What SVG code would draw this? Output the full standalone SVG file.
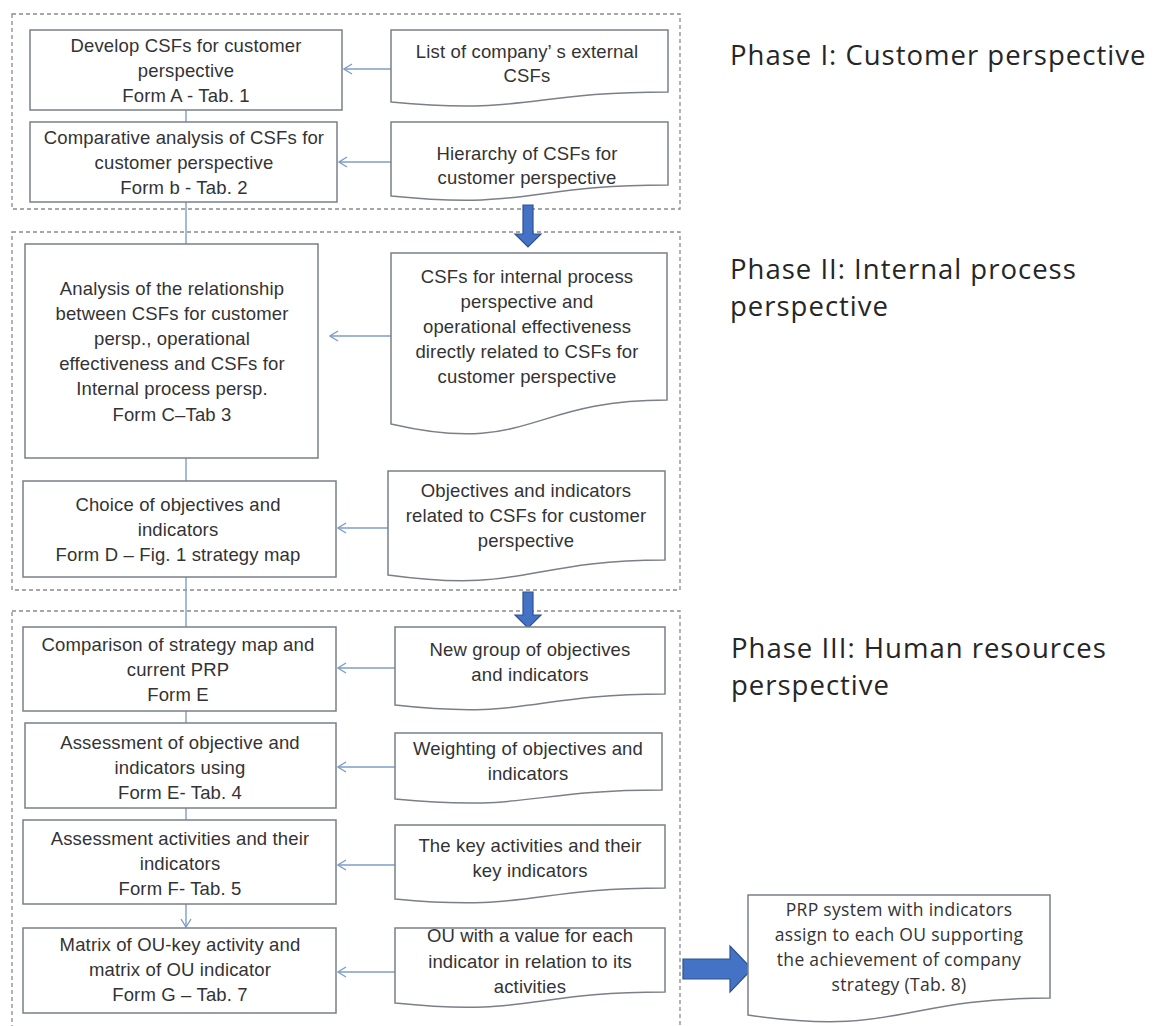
<svg xmlns="http://www.w3.org/2000/svg" width="1164" height="1026" viewBox="0 0 1164 1026">
<defs>
<style>
.phase{fill:none;stroke:#8a8a8a;stroke-width:1.3;stroke-dasharray:4 3}
.box{fill:#fff;stroke:#7a7f88;stroke-width:1.5}
.doc{fill:#fff;stroke:#7a7f88;stroke-width:1.5}
.t{font-family:"Liberation Sans",Arial,sans-serif;font-size:18.5px;letter-spacing:0.15px;fill:#333;text-anchor:middle}
.t2{font-family:"Open Sans","Liberation Sans",sans-serif;font-size:17.5px;letter-spacing:0.3px;fill:#333;text-anchor:middle}
.ph{font-family:"Open Sans","Liberation Sans",sans-serif;font-size:27.5px;letter-spacing:1px;fill:#262626}
.con{fill:none;stroke:#7f9cc8;stroke-width:1.4}
.big{fill:#4472c4;stroke:#2f528f;stroke-width:1.2}
</style>
<marker id="open" viewBox="0 0 10 12" refX="9" refY="6" markerWidth="10" markerHeight="12" markerUnits="userSpaceOnUse" orient="auto">
<path d="M1,1 L9,6 L1,11" fill="none" stroke="#7f9cc8" stroke-width="1.4"/>
</marker>
</defs>

<g id="phase1-frame"><rect class="phase" x="12" y="14" width="668" height="195"/></g>
<g id="phase2-frame"><rect class="phase" x="12" y="232" width="668" height="358"/></g>
<g id="phase3-frame"><rect class="phase" x="12" y="611" width="668" height="430"/></g>

<g id="connectors">
<path class="con" d="M186,110 V122"/>
<path class="con" d="M186,202 V244"/>
<path class="con" d="M186,458 V481"/>
<path class="con" d="M186,577 V627"/>
<path class="con" d="M186,711 V723"/>
<path class="con" d="M186,808 V820"/>
<path class="con" d="M186,904 V927" marker-end="url(#open)"/>
<path class="con" d="M391,69 H344" marker-end="url(#open)"/>
<path class="con" d="M391,162 H339" marker-end="url(#open)"/>
<path class="con" d="M391,336 H330" marker-end="url(#open)"/>
<path class="con" d="M388,528 H338" marker-end="url(#open)"/>
<path class="con" d="M395,668 H338" marker-end="url(#open)"/>
<path class="con" d="M395,767 H338" marker-end="url(#open)"/>
<path class="con" d="M395,865 H338" marker-end="url(#open)"/>
<path class="con" d="M395,972 H338" marker-end="url(#open)"/>
<path class="big" d="M523,205 H533 V234 H541 L528,247 L515,234 H523 Z"/>
<path class="big" d="M523,592 H533 V615 H541 L528,628 L515,615 H523 Z"/>
<path class="big" d="M683,959 H730 V946 L752,969 L730,992 V979 H683 Z"/>
</g>

<g id="n1">
<rect class="box" x="30" y="30" width="312" height="80"/>
<text class="t" x="186" y="52">Develop CSFs for customer</text>
<text class="t" x="186" y="77">perspective</text>
<text class="t" x="186" y="102">Form A - Tab. 1</text>
</g>
<g id="d1">
<path class="doc" d="M391,30 H668 V92 C529,92 529,115 391,102 Z"/>
<text class="t" x="527" y="58">List of company’ s external</text>
<text class="t" x="527" y="82">CSFs</text>
</g>

<g id="n2">
<rect class="box" x="30" y="122" width="307" height="80"/>
<text class="t" x="184" y="144">Comparative analysis of CSFs for</text>
<text class="t" x="184" y="169">customer perspective</text>
<text class="t" x="184" y="194">Form b -  Tab. 2</text>
</g>
<g id="d2">
<path class="doc" d="M391,122 H668 V185 C529,185 529,210 391,196 Z"/>
<text class="t" x="527" y="160">Hierarchy of CSFs for</text>
<text class="t" x="527" y="184">customer perspective</text>
</g>

<g id="n3">
<rect class="box" x="25" y="244" width="293" height="214"/>
<text class="t" x="172" y="295">Analysis of the relationship</text>
<text class="t" x="172" y="320">between CSFs for customer</text>
<text class="t" x="172" y="345">persp., operational</text>
<text class="t" x="172" y="370">effectiveness and CSFs for</text>
<text class="t" x="172" y="395">Internal process  persp.</text>
<text class="t" x="172" y="421">Form C–Tab 3</text>
</g>
<g id="d3">
<path class="doc" d="M391,253 H667 V400 C529,400 529,456 391,424 Z"/>
<text class="t" x="527" y="283">CSFs for internal process</text>
<text class="t" x="527" y="308">perspective  and</text>
<text class="t" x="527" y="333">operational effectiveness</text>
<text class="t" x="527" y="358">directly related to CSFs for</text>
<text class="t" x="527" y="383">customer perspective</text>
</g>

<g id="n4">
<rect class="box" x="23" y="481" width="313" height="96"/>
<text class="t" x="178" y="511">Choice of objectives and</text>
<text class="t" x="178" y="536">indicators</text>
<text class="t" x="178" y="561">Form D – Fig. 1 strategy map</text>
</g>
<g id="d4">
<path class="doc" d="M388,471 H665 V560 C526,560 526,594 388,575 Z"/>
<text class="t" x="526" y="497">Objectives and indicators</text>
<text class="t" x="526" y="522">related to  CSFs for customer</text>
<text class="t" x="526" y="547">perspective</text>
</g>

<g id="n5">
<rect class="box" x="23" y="627" width="313" height="84"/>
<text class="t" x="178" y="651">Comparison of strategy map  and</text>
<text class="t" x="178" y="676">current PRP</text>
<text class="t" x="178" y="701">Form E</text>
</g>
<g id="d5">
<path class="doc" d="M395,627 H665 V694 C530,694 530,720 395,705 Z"/>
<text class="t" x="530" y="656">New group of objectives</text>
<text class="t" x="530" y="681">and indicators</text>
</g>

<g id="n6">
<rect class="box" x="25" y="723" width="311" height="85"/>
<text class="t" x="180" y="749">Assessment  of objective and</text>
<text class="t" x="180" y="774">indicators using</text>
<text class="t" x="180" y="799">Form E-  Tab. 4</text>
</g>
<g id="d6">
<path class="doc" d="M395,733 H662 V790 C528,790 528,812 395,799 Z"/>
<text class="t" x="528" y="755">Weighting of objectives and</text>
<text class="t" x="528" y="780">indicators</text>
</g>

<g id="n7">
<rect class="box" x="23" y="820" width="313" height="84"/>
<text class="t" x="180" y="845">Assessment  activities and their</text>
<text class="t" x="180" y="870">indicators</text>
<text class="t" x="180" y="895">Form F- Tab. 5</text>
</g>
<g id="d7">
<path class="doc" d="M395,825 H665 V888 C530,888 530,912 395,899 Z"/>
<text class="t" x="530" y="852">The key activities and their</text>
<text class="t" x="530" y="877">key indicators</text>
</g>

<g id="n8">
<rect class="box" x="23" y="928" width="313" height="85"/>
<text class="t" x="180" y="951">Matrix of OU-key activity and</text>
<text class="t" x="180" y="976">matrix of OU indicator</text>
<text class="t" x="180" y="1001">Form G – Tab. 7</text>
</g>
<g id="d8">
<path class="doc" d="M395,928 H665 V992 C530,992 530,1017 395,1003 Z"/>
<text class="t" x="530" y="942">OU with a  value for each</text>
<text class="t" x="530" y="968">indicator in relation to its</text>
<text class="t" x="530" y="993">activities</text>
</g>

<g id="d9">
<path class="doc" d="M748,895 H1050 V998 C899,998 899,1037 748,1015 Z"/>
<text class="t2" x="899" y="916">PRP system with indicators</text>
<text class="t2" x="899" y="941">assign to each OU supporting</text>
<text class="t2" x="899" y="966">the achievement of company</text>
<text class="t2" x="899" y="991">strategy  (Tab. 8)</text>
</g>

<g id="phase-labels">
<text class="ph" x="730" y="65">Phase I: Customer perspective</text>
<text class="ph" x="730" y="279">Phase II: Internal process</text>
<text class="ph" x="730" y="316">perspective</text>
<text class="ph" x="731" y="658">Phase III: Human resources</text>
<text class="ph" x="731" y="695">perspective</text>
</g>
</svg>
